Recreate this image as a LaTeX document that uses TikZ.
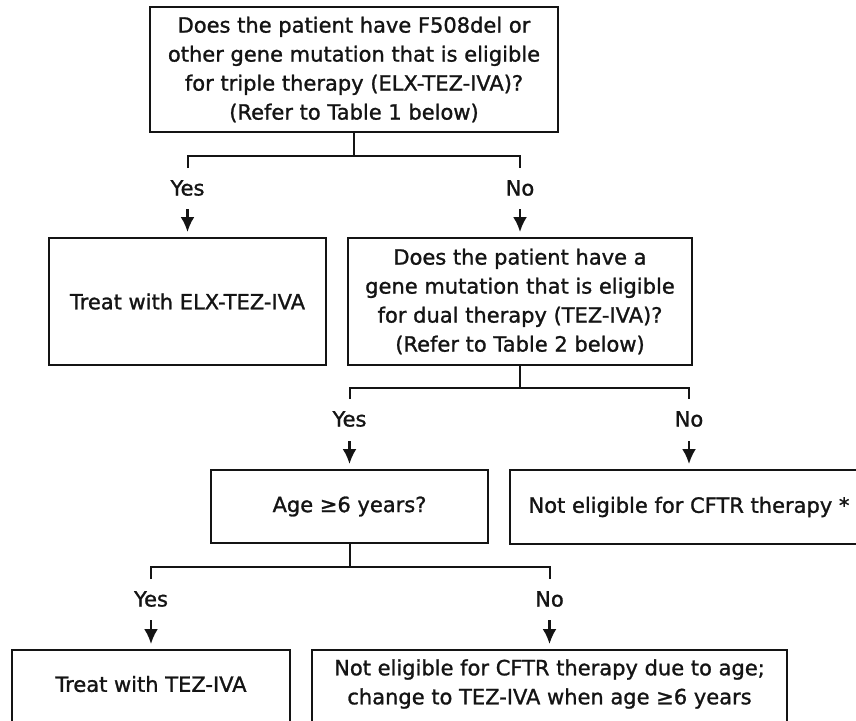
\documentclass[tikz,border=0pt]{standalone}
\usepackage{fontspec}
\setmainfont{DejaVu Sans}[FakeBold=1.2]
\usetikzlibrary{arrows.meta,calc}
\definecolor{ink}{RGB}{20,20,20}
\begin{document}
\begin{tikzpicture}[x=1pt,y=-1pt,
  box/.style={draw=ink, line width=2pt, align=center, text=ink,
    font=\fontsize{21}{29}\selectfont, inner sep=0pt},
  txt/.style={align=center, text=ink, font=\fontsize{21}{29}\selectfont, inner sep=0pt},
  lab/.style={text=ink, font=\fontsize{21}{24}\selectfont, inner sep=0pt},
  conn/.style={draw=ink, line width=2pt},
  arr/.style={draw=ink, line width=2.4pt, -{Latex[length=15pt,width=14pt]}}]
\useasboundingbox (0,0) rectangle (856,720);
\clip (0,0) rectangle (856,720);
\fill[white] (0,0) rectangle (856,720);

% boxes
\node[box, minimum width=408pt, minimum height=125pt] (q1) at (354,69.5)
  {Does the patient have F508del or\\other gene mutation that is eligible\\for triple therapy (ELX-TEZ-IVA)?\\(Refer to Table 1 below)};
\node[box, minimum width=277pt, minimum height=127pt] (t1) at (187.5,301.5) {Treat with ELX-TEZ-IVA};
\node[box, minimum width=344pt, minimum height=127pt] (q2) at (520,301.5)
  {Does the patient have a\\gene mutation that is eligible\\for dual therapy (TEZ-IVA)?\\(Refer to Table 2 below)};
\node[box, minimum width=277pt, minimum height=73pt] (q3) at (349.5,506.5) {Age ≥6 years?};
\node[box, minimum width=358pt, minimum height=74pt] (n1) at (689,507) {};
\node[txt] (n1t) at (689,507) {Not eligible for CFTR therapy *};
\node[box, minimum width=278pt, minimum height=120pt, anchor=north] (t2) at (151,649) {};
\node[txt] (t2t) at (151,684) {Treat with TEZ-IVA};
\node[box, minimum width=475pt, minimum height=120pt, anchor=north] (n2) at (549.5,649) {};
\node[txt] (n2t) at (549.5,684) {Not eligible for CFTR therapy due to age;\\change to TEZ-IVA when age ≥6 years};

% level 1
\draw[conn] (q1.south) -- ++(0,23) coordinate (j1);
\draw[conn] ($(j1 -| t1)+(0,12)$) -- (j1 -| t1) -- (j1 -| q2) -- ($(j1 -| q2)+(0,12)$);
\node[lab] (y1) at ($(j1 -| t1)+(0,32)$) {Yes};
\node[lab] (x1) at ($(j1 -| q2)+(0,32)$) {No};
\draw[arr, shorten <=21pt, shorten >=5pt] (y1.center) -- (t1.north);
\draw[arr, shorten <=21pt, shorten >=5pt] (x1.center) -- (q2.north);

% level 2
\draw[conn] (q2.south) -- ++(0,22) coordinate (j2);
\draw[conn] ($(j2 -| q3)+(0,11)$) -- (j2 -| q3) -- (j2 -| n1) -- ($(j2 -| n1)+(0,11)$);
\node[lab] (y2) at ($(j2 -| q3)+(0,31)$) {Yes};
\node[lab] (x2) at ($(j2 -| n1)+(0,31)$) {No};
\draw[arr, shorten <=22pt, shorten >=5pt] (y2.center) -- (q3.north);
\draw[arr, shorten <=22pt, shorten >=5pt] (x2.center) -- (n1.north);

% level 3
\draw[conn] (q3.south) -- ++(0,23) coordinate (j3);
\draw[conn] ($(j3 -| t2)+(0,12)$) -- (j3 -| t2) -- (j3 -| n2) -- ($(j3 -| n2)+(0,12)$);
\node[lab] (y3) at ($(j3 -| t2)+(0,32)$) {Yes};
\node[lab] (x3) at ($(j3 -| n2)+(0,32)$) {No};
\draw[arr, shorten <=21pt, shorten >=5pt] (y3.center) -- (t2.north);
\draw[arr, shorten <=21pt, shorten >=5pt] (x3.center) -- (n2.north);
\end{tikzpicture}
\end{document}
